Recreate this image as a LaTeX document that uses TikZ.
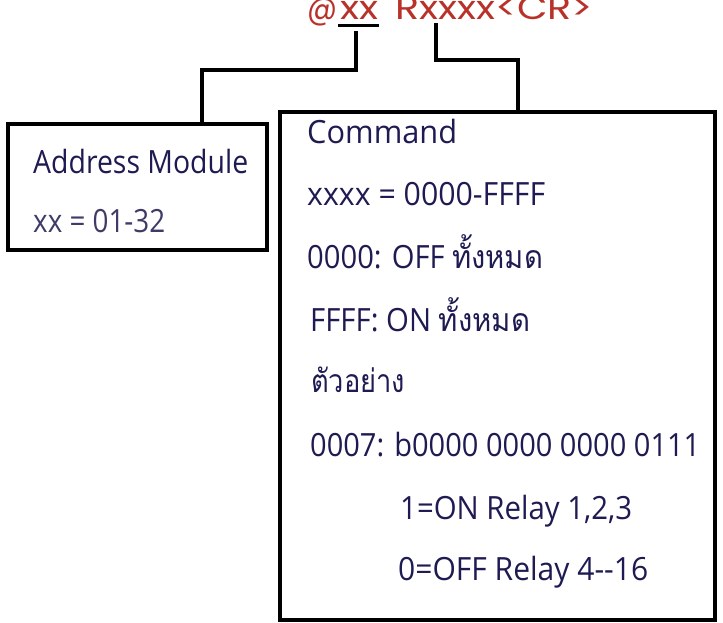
\documentclass[tikz,border=0pt]{standalone}
\usepackage{fontspec}
\usepackage{graphicx}
\setmainfont{Open Sans}
\newfontfamily\thaifont[Script=Thai]{Loma}
\newfontfamily\titlefont{Poppins}
\definecolor{navy}{HTML}{1E1A52}
\definecolor{greynavy}{HTML}{3E3C66}
\definecolor{titlered}{HTML}{B8322A}
\newcommand\boxline[5]{%
  \node[txt,#5] (#1) at (#2) {\resizebox{#3pt}{\height}{#4}};}
\begin{document}
\begin{tikzpicture}[x=1pt,y=-1pt,
  txt/.style={anchor=base west,inner sep=0pt,text=navy,font=\fontsize{32}{38}\selectfont},
  ttl/.style={anchor=base west,inner sep=0pt,text=titlered,font=\titlefont\fontsize{33}{38}\selectfont},
  frame/.style={draw=black,line width=3.5pt,rectangle,inner sep=0pt},
  wire/.style={draw=black,line width=3.5pt}]
\useasboundingbox (0,0) rectangle (723,622);
% title
\node[ttl] (ta) at (307,19.5) {\resizebox{30pt}{\height}{@}};
\node[ttl] (tb) at (340,19.5) {\resizebox{38pt}{\height}{xx}};
\node[ttl] (tc) at (395,19.5) {\resizebox{198pt}{\height}{Rxxxx<CR>}};
\coordinate (ul1) at (338,25.5);
\coordinate (ul2) at (379,25.5);
\draw[line width=3pt] (ul1) -- (ul2);
% boxes
\node[frame,minimum width=259pt,minimum height=126pt] (addr) at (137.5,187) {};
\node[frame,minimum width=435pt,minimum height=508pt] (cmd) at (497.5,366) {};
% connectors
\coordinate (c1) at (356,31);
\coordinate (c1b) at (356,70);
\coordinate (a1) at (202,124);
\draw[wire] (c1) -- (c1b) -| (a1);
\coordinate (c2) at (436,23);
\coordinate (c2b) at (436,60);
\coordinate (m1) at (518,112);
\draw[wire] (c2) -- (c2b) -| (m1);
% address texts
\boxline{t1}{33,173}{215}{Address Module}{}
\boxline{t2}{33,232}{132}{xx = 01-32}{text=greynavy}
% command texts
\boxline{t3}{307,143}{150}{Command}{}
\boxline{t4}{307,205}{238}{xxxx = 0000-FFFF}{}
\boxline{t5}{307,268}{236}{0000: OFF {\thaifont ทั้งหมด}}{}
\boxline{t6}{310,331}{220}{FFFF: ON {\thaifont ทั้งหมด}}{}
\boxline{t7}{311,392}{94}{{\thaifont ตัวอย่าง}}{}
\boxline{t8}{310,456}{390}{0007: b0000 0000 0000 0111}{}
\boxline{t9}{400,519}{232}{1=ON Relay 1,2,3}{}
\boxline{t10}{398,580}{250}{0=OFF Relay 4-{}-16}{}
\end{tikzpicture}
\end{document}
